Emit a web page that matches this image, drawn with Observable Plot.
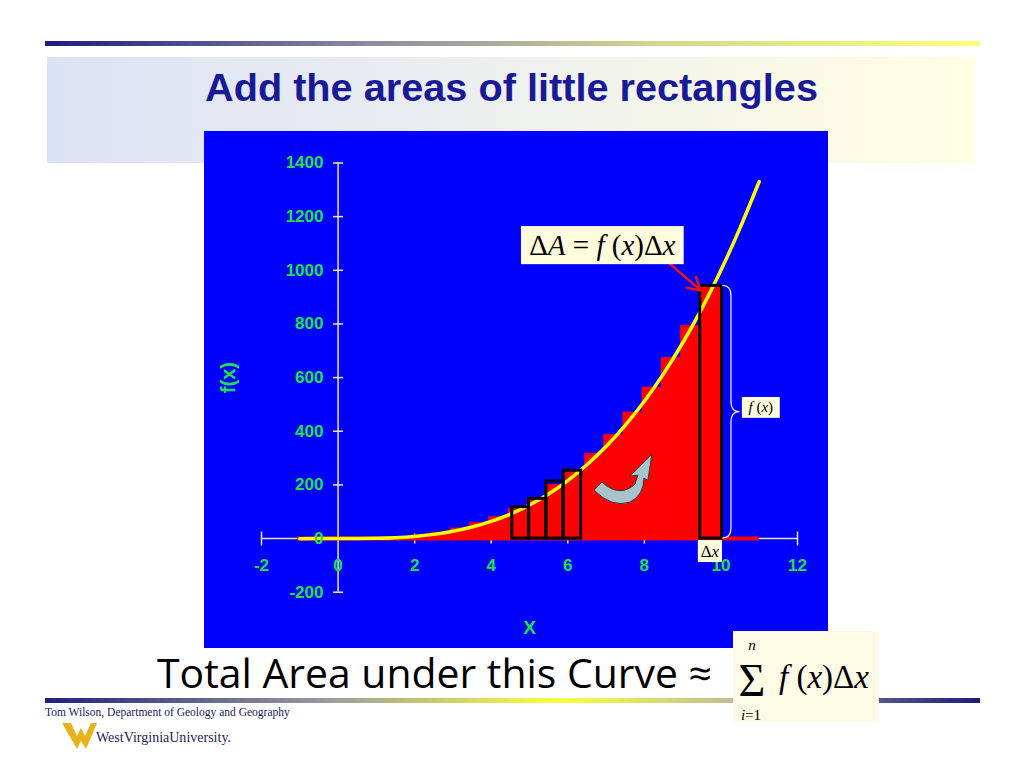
<!DOCTYPE html>
<html><head><meta charset="utf-8">
<script src="https://cdn.jsdelivr.net/npm/d3@7"></script>
<script src="https://cdn.jsdelivr.net/npm/@observablehq/plot@0.6"></script>
<style>
html,body{margin:0;padding:0;background:#fff;}
#page{position:relative;width:1024px;height:768px;overflow:hidden;background:#fff;}
#bg,#fg{position:absolute;left:0;top:0;}
#fg{pointer-events:none;}
#chart{position:absolute;left:204px;top:131px;width:624px;height:517px;}
</style></head><body>
<div id="page">
<svg id="bg" width="1024" height="768">
  <defs>
    <linearGradient id="gTop" x1="0" x2="1"><stop offset="0" stop-color="#1c1c80"/><stop offset="0.35" stop-color="#8c8ca4"/><stop offset="0.65" stop-color="#d6d48e"/><stop offset="1" stop-color="#ffff78"/></linearGradient>
    <linearGradient id="gBand" x1="0" x2="1"><stop offset="0" stop-color="#dbe2f5"/><stop offset="0.5" stop-color="#eef0ee"/><stop offset="1" stop-color="#ffffe2"/></linearGradient>
    <linearGradient id="gBot" x1="0" x2="1"><stop offset="0" stop-color="#20207c"/><stop offset="0.3" stop-color="#9a9aa2"/><stop offset="0.55" stop-color="#ffff3c"/><stop offset="0.75" stop-color="#b8b8a0"/><stop offset="0.9" stop-color="#50508a"/><stop offset="1" stop-color="#1e1e7a"/></linearGradient>
  </defs>
  <rect x="45" y="41" width="935" height="5" fill="url(#gTop)"/>
  <rect x="47" y="57" width="928" height="106" fill="url(#gBand)"/>
  <text x="205" y="101" font-family="'Liberation Sans', Arial, sans-serif" font-weight="bold" font-size="38" fill="#1a1a96" textLength="613" lengthAdjust="spacingAndGlyphs">Add the areas of little rectangles</text>
  <text x="157" y="688" font-family="'Open Sans', sans-serif" font-size="40" fill="#000" textLength="555" lengthAdjust="spacingAndGlyphs">Total Area under this Curve ≈</text>
  <rect x="45" y="698" width="935" height="5" fill="url(#gBot)"/>
  <text x="45" y="716" font-family="'Liberation Serif', 'Times New Roman', serif" font-size="11.5" fill="#1a1a60">Tom Wilson, Department of Geology and Geography</text>
  <path d="M62,723 L71,723 L77,736 L81,728 L85,736 L91,723 L97,723 L86,749 L81,741 L77,749 Z" fill="#e8b21a"/>
  <text x="96" y="742" font-family="'Liberation Serif', 'Times New Roman', serif" font-size="15" fill="#25255a" textLength="135" lengthAdjust="spacingAndGlyphs">WestVirginiaUniversity.</text>
</svg>
<div id="chart"></div>
<svg id="fg" width="1024" height="768" font-family="'Liberation Serif', 'Times New Roman', serif">
  <rect x="733" y="631" width="146" height="91" fill="#fdfae6"/>
  <text x="752" y="650" font-style="italic" font-size="15" text-anchor="middle">n</text>
  <text x="752" y="696" font-size="46" text-anchor="middle">Σ</text>
  <text x="751" y="720" font-size="15" text-anchor="middle"><tspan font-style="italic">i</tspan>=1</text>
  <text x="779" y="688" font-size="33" style="white-space:pre"><tspan font-style="italic">f</tspan> (<tspan font-style="italic">x</tspan>)Δ<tspan font-style="italic">x</tspan></text>
</svg>
</div>
<script>
// ---- data ----
const xTicks = [-2, 0, 2, 4, 6, 8, 10, 12];
const xTickLabels = ["-2", "0", "2", "4", "6", "8", "10", "12"];
const yTicks = [-200, 0, 200, 400, 600, 800, 1000, 1200, 1400];
const yTickLabels = ["-200", "0", "200", "400", "600", "800", "1000", "1200", "1400"];

const curveX = [-1, -0.5, 0, 0.5, 1, 1.5, 2, 2.5, 3, 3.5, 4, 4.5, 5, 5.5, 6, 6.5, 7, 7.5, 8, 8.5, 9, 9.5, 10, 10.5, 11];
const curveY = [-1, -0.1, 0, 0.1, 1, 3.4, 8, 15.6, 27, 43, 64, 91, 125, 166, 216, 275, 343, 422, 512, 614, 729, 857, 1000, 1158, 1331];

const barLeft = [0.95, 1.45, 1.95, 2.45, 2.95, 3.45, 3.95, 4.45, 4.95, 5.45, 5.95, 6.45, 6.95, 7.45, 7.95, 8.45, 8.95, 9.45];
const barRight = [1.45, 1.95, 2.45, 2.95, 3.45, 3.95, 4.45, 4.95, 5.45, 5.95, 6.45, 6.95, 7.45, 7.95, 8.45, 8.95, 9.45, 10.03];
const barHeight = [2, 5, 12, 22, 38, 59, 80, 110, 148, 200, 252, 316, 387, 470, 563, 674, 793, 942];

const boxLeft = [4.55, 4.99, 5.44, 5.89, 9.46];
const boxRight = [4.99, 5.44, 5.89, 6.35, 10.03];
const boxHeight = [117, 148, 213, 253, 942];

const baseTail = [-1.05, 11];          // red strip along the x axis
const arrowFrom = [8.62, 1030];
const arrowTo = [9.47, 925];
const formulaBox = [4.79, 9.04, 1021, 1163];   // x1, x2, y1, y2
const fxBox = [10.56, 11.55, 448, 526];
const dxBox = [9.41, 10.04, -89.5, -7.5];
const brace = [10.05, 10.5, 0, 942];          // x start, x tip, y bottom, y top
const curlyArrowAt = [6.33, 365];

// ---- styles ----
const green = "#1de04c";
const axisColor = "#e8e4b4";
const tickColor = "#ecea98";
const hTick = {draw(ctx) { ctx.moveTo(-5, 0); ctx.lineTo(5, 0); }};
const vTick = {draw(ctx) { ctx.moveTo(0, -5); ctx.lineTo(0, 5); }};
const vCap = {draw(ctx) { ctx.moveTo(0, -7); ctx.lineTo(0, 7); }};

const curve = curveX.map((x, i) => ({x, y: curveY[i]}));
const bars = barLeft.map((x1, i) => ({x1, x2: barRight[i], h: barHeight[i]}));
const boxes = boxLeft.map((x1, i) => ({x1, x2: boxRight[i], h: boxHeight[i]}));
const innerXTicks = xTicks.slice(1, -1).filter(v => v !== 0);
const endXTicks = [xTicks[0], xTicks[xTicks.length - 1]];

const chart = Plot.plot({
  width: 624, height: 517,
  marginLeft: 57, marginRight: 31, marginTop: 31.5, marginBottom: 56.3,
  x: {domain: [-2, 12], axis: null},
  y: {domain: [-200, 1400], axis: null},
  style: {background: "#0000ff", fontFamily: "'Liberation Sans', Arial, sans-serif", overflow: "visible"},
  marks: [
    Plot.ruleY([0], {x1: xTicks[0], x2: xTicks[xTicks.length - 1], stroke: axisColor, strokeWidth: 1.5}),
    Plot.ruleX([0], {y1: yTicks[0], y2: yTicks[yTicks.length - 1], stroke: axisColor, strokeWidth: 1.5}),
    Plot.dot(yTicks, {x: 0, y: d => d, symbol: hTick, fill: "none", stroke: tickColor, strokeWidth: 1.5}),
    Plot.dot(innerXTicks, {x: d => d, y: 0, symbol: vTick, fill: "none", stroke: tickColor, strokeWidth: 1.5}),
    Plot.dot(endXTicks, {x: d => d, y: 0, symbol: vCap, fill: "none", stroke: axisColor, strokeWidth: 1.5}),
    Plot.ruleY([0], {x1: baseTail[0], x2: baseTail[1], stroke: "#ff0000", strokeWidth: 4}),
    Plot.rect(bars, {x1: "x1", x2: "x2", y1: 0, y2: "h", fill: "#ff0000", stroke: "#ff0000", strokeWidth: 0.6}),
    Plot.line(curve, {x: "x", y: "y", stroke: "#ffff00", strokeWidth: 3.5, curve: "natural"}),
    Plot.rect(boxes, {x1: "x1", x2: "x2", y1: 0, y2: "h", fill: "none", stroke: "#000", strokeWidth: 3}),
    Plot.arrow([0], {x1: arrowFrom[0], y1: arrowFrom[1], x2: arrowTo[0], y2: arrowTo[1], stroke: "#e8141c", strokeWidth: 2.5, headLength: 10}),
    Plot.text(yTicks, {x: 0, y: d => d, text: (d, i) => yTickLabels[i], dx: -14.6, textAnchor: "end", fill: green, fontSize: 17, fontWeight: "bold"}),
    Plot.text(xTicks, {x: d => d, y: 0, text: (d, i) => xTickLabels[i], dy: 27, lineAnchor: "middle", fill: green, fontSize: 17, fontWeight: "bold"}),
    Plot.text(["f(x)"], {text: d => d, frameAnchor: "left", dx: -33, rotate: -90, textAnchor: "middle", lineAnchor: "middle", fill: green, fontSize: 20, fontWeight: "bold"}),
    Plot.text(["X"], {text: d => d, frameAnchor: "bottom", dy: 36, textAnchor: "middle", lineAnchor: "middle", fill: green, fontSize: 19, fontWeight: "bold"})
  ]
});
document.getElementById("chart").appendChild(chart);

// ---- annotations placed through the plot's own scales ----
const sx = chart.scale("x"), sy = chart.scale("y");
const X = sx.apply ? v => sx.apply(v) : d3.scaleLinear(sx.domain, sx.range);
const Y = sy.apply ? v => sy.apply(v) : d3.scaleLinear(sy.domain, sy.range);
const svg = d3.select(chart);
const g = svg.append("g").attr("font-family", "'Liberation Serif', 'Times New Roman', serif");

function labelBox(b, parts, size) {
  const x1 = X(b[0]), x2 = X(b[1]), yT = Y(b[3]), yB = Y(b[2]);
  g.append("rect").attr("x", x1).attr("y", yT).attr("width", x2 - x1).attr("height", yB - yT).attr("fill", "#fffbdc");
  const t = g.append("text").attr("x", (x1 + x2) / 2).attr("y", (yT + yB) / 2 + size * 0.33)
    .attr("text-anchor", "middle").attr("font-size", size).attr("fill", "#000").style("white-space", "pre");
  parts.forEach(([s, it]) => t.append("tspan").text(s).attr("font-style", it ? "italic" : "normal"));
}

// brace
{
  const xa = X(brace[0]), xb = X(brace[1]), xm = (xa + xb) / 2;
  const yt = Y(brace[3]), yb = Y(brace[2]), ym = (yt + yb) / 2, r = 10;
  g.append("path").attr("fill", "none").attr("stroke", "#ffffff").attr("stroke-width", 1.2)
    .attr("d", `M${xa},${yt} Q${xm},${yt} ${xm},${yt + r} L${xm},${ym - r} Q${xm},${ym} ${xb},${ym} Q${xm},${ym} ${xm},${ym + r} L${xm},${yb - r} Q${xm},${yb} ${xa},${yb}`);
}

labelBox(formulaBox, [["Δ", 0], ["A", 1], [" = ", 0], ["f", 1], [" (", 0], ["x", 1], [")Δ", 0], ["x", 1]], 29);
labelBox(fxBox, [["f", 1], [" (", 0], ["x", 1], [")", 0]], 15);
labelBox(dxBox, [["Δ", 0], ["x", 1]], 17);

// curved arrow
g.append("path")
  .attr("transform", `translate(${X(curlyArrowAt[0])},${Y(curlyArrowAt[1])})`)
  .attr("d", "M22,42 Q40,58 55,44 L58,35 L50,36 L72,14 L68,40 L64,38 Q64,55 50,62 Q32,68 14,50 Z")
  .attr("fill", "#a9c3cb").attr("stroke", "#2a3a40").attr("stroke-width", 1);
</script>
</body></html>
